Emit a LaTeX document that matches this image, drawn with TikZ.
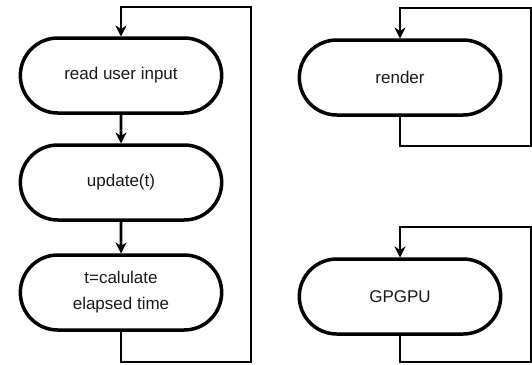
\documentclass[tikz,border=0pt]{standalone}
\usepackage{fontspec}
\setmainfont{Liberation Sans}
\usepackage{tikz}
\usetikzlibrary{arrows.meta, shapes.misc}
\usetikzlibrary{positioning}

\tikzset{
  stage/.style={draw, rounded rectangle, line width=3.5pt, outer sep=0pt,
    minimum width=208pt, minimum height=75pt, align=center,
    text=black!90, font=\fontsize{17}{26}\selectfont},
  flow/.style={line width=2.7pt, -{Stealth[length=11pt,width=11pt,inset=3.5pt]},
    shorten >=1.5pt}
}

\begin{document}
\begin{tikzpicture}[x=1pt, y=-1pt]
      \useasboundingbox (0,0) rectangle (532,364);

      \node[stage] (read) at (121,75.5) {read user input};
      \node[stage, below=32pt of read] (update) {update(t)};
      \node[stage, below=35pt of update] (elapsed) {t=calulate\\elapsed time};

      \node[stage] (render) at (400,77.5) {render};
      \node[stage, below=144pt of render] (gpgpu) {GPGPU};

      \coordinate (readtr) at (251,7);
      \coordinate (readbr) at (251,362);
      \coordinate (rendertr) at (531,8);
      \coordinate (renderbr) at (531,146);
      \coordinate (gpgputr) at (531,227);
      \coordinate (gpgpubr) at (531,362);

      \draw[flow] (read) -- (update);
      \draw[flow] (update) -- (elapsed);
      \draw[flow] (elapsed.south) |- (readbr) -- (readtr) -| (read.north);

      \draw[flow] (render.south) |- (renderbr) -- (rendertr) -| (render.north);
      \draw[flow] (gpgpu.south) |- (gpgpubr) -- (gpgputr) -| (gpgpu.north);

    \end{tikzpicture}
\end{document}
